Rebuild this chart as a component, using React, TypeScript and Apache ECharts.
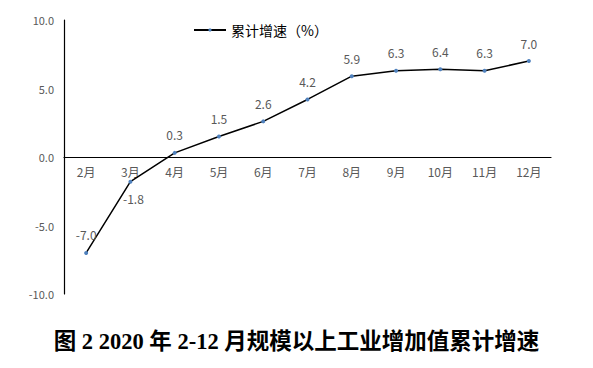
import React, { useEffect, useRef } from "react";
import * as echarts from "echarts";

const categories = ["2月", "3月", "4月", "5月", "6月", "7月", "8月", "9月", "10月", "11月", "12月"];
const growth = [-7.0, -1.8, 0.3, 1.5, 2.6, 4.2, 5.9, 6.3, 6.4, 6.3, 7.0];
const seriesName = "累计增速（%）";
const titleText = "图 2 2020 年 2-12 月规模以上工业增加值累计增速";

export default function App() {
  const ref = useRef<HTMLDivElement>(null);
  useEffect(() => {
    if (!ref.current) return;
    const chart = echarts.init(ref.current, null, { renderer: "svg" });
    const labelColor = "#595959";
    chart.setOption({
      animation: false,
      backgroundColor: "#ffffff",
      textStyle: { fontFamily: "'Noto Sans CJK SC', sans-serif" },
      title: {
        text: titleText,
        left: "center",
        top: 330,
        padding: 0,
        textStyle: {
          fontFamily: "'Liberation Serif', 'Noto Sans CJK SC', serif",
          fontWeight: "bold",
          fontSize: 22.5,
          color: "#000000",
        },
      },
      legend: {
        left: 193,
        top: 23,
        padding: 0,
        itemWidth: 32,
        itemHeight: 4,
        textStyle: { color: "#000000", fontSize: 14, fontFamily: "'Noto Sans CJK SC', sans-serif" },
        data: [{ name: seriesName }],
      },
      grid: { left: 64, right: 42, top: 20, bottom: 74 },
      xAxis: {
        type: "category",
        data: categories,
        boundaryGap: true,
        offset: -137,
        axisLine: { onZero: false, lineStyle: { color: "#000000", width: 1.2 } },
        axisTick: { show: false },
        axisLabel: { color: labelColor, fontSize: 12, margin: 8 },
      },
      yAxis: {
        type: "value",
        min: -10,
        max: 10,
        interval: 5,
        axisLine: { show: true, lineStyle: { color: "#000000", width: 1.2 } },
        axisTick: { show: false },
        splitLine: { show: false },
        axisLabel: {
          color: labelColor,
          fontSize: 11,
          margin: 10,
          formatter: (v: number) => v.toFixed(1),
        },
      },
      series: [
        {
          name: seriesName,
          type: "line",
          data: growth.map((v, i) =>
            i === 1
              ? { value: v, label: { position: "bottom", distance: 5, offset: [3, 4] } }
              : v
          ),
          symbol: "circle",
          symbolSize: 4,
          itemStyle: { color: "#4f81bd" },
          lineStyle: { color: "#000000", width: 1.5 },
          label: {
            show: true,
            position: "top",
            distance: 10,
            color: labelColor,
            fontSize: 12,
            formatter: (p: any) => Number(p.value).toFixed(1),
          },
        },
      ],
    });
    return () => chart.dispose();
  }, []);
  return (
    <div
      ref={ref}
      style={{ width: 593, height: 368, position: "fixed", left: 0, top: 0 }}
    />
  );
}
